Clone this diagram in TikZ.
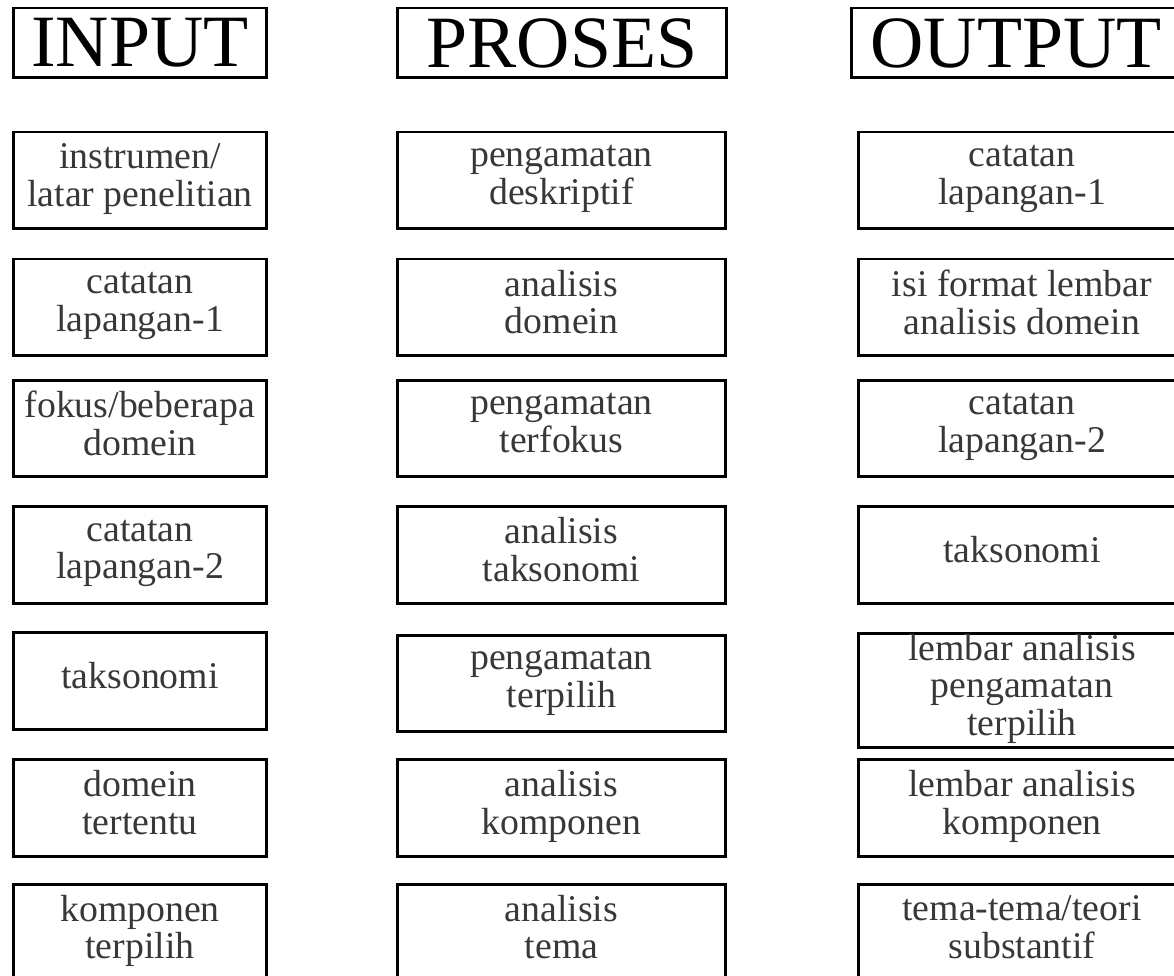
\documentclass[tikz,border=0pt]{standalone}
\usepackage{fontspec}
\setmainfont{Liberation Serif}
\usetikzlibrary{positioning}

\tikzset{
  judul/.style={draw,line width=1.7pt,inner sep=0pt,minimum height=1.4cm,
    font=\fontsize{42}{42}\selectfont},
  kotak/.style={draw,line width=1.7pt,inner sep=0pt,minimum height=1.94cm,
    align=center,text=black!78,font=\fontsize{21.5}{21.5}\selectfont,
    execute at begin node=\strut,execute at end node=\strut},
  kiri/.style={kotak,minimum width=5.08cm},
  tengah/.style={kotak,minimum width=6.58cm},
  kanan/.style={kotak,minimum width=6.56cm}
}

\begin{document}
\begin{tikzpicture}[x=0.02cm,y=-0.02cm]
    \useasboundingbox (0,0) rectangle (1174,976);
    \clip (0,0) rectangle (1174,976);
    % judul kolom
    \node[judul,minimum width=5.08cm] (input) at (140,43) {INPUT};
    \node[judul,minimum width=6.6cm] (proses) at (562,43) {PROSES};
    \node[judul,minimum width=6.6cm] (output) at (1016,43) {OUTPUT};
    % input
    \node[kiri] (in1) at (140,180.5) {instrumen/\\latar penelitian};
    \node[kiri] (in2) at (140,307.5) {catatan\\lapangan-1};
    \node[kiri] (in3) at (140,428.5) {fokus/beberapa\\domein};
    \node[kiri] (in4) at (140,555) {catatan\\lapangan-2};
    \node[kiri] (in5) at (140,681) {taksonomi};
    \node[kiri] (in6) at (140,808) {domein\\tertentu};
    \node[kiri] (in7) at (140,932.5) {komponen\\terpilih};
    % proses
    \node[tengah] (pr1) at (561.5,180.5) {pengamatan\\deskriptif};
    \node[tengah] (pr2) at (561.5,307.5) {analisis\\domein};
    \node[tengah] (pr3) at (561.5,428.5) {pengamatan\\terfokus};
    \node[tengah] (pr4) at (561.5,555) {analisis\\taksonomi};
    \node[tengah] (pr5) at (561.5,683.5) {pengamatan\\terpilih};
    \node[tengah] (pr6) at (561.5,808) {analisis\\komponen};
    \node[tengah] (pr7) at (561.5,932.5) {analisis\\tema};
    % output
    \node[kanan] (out1) at (1022,180.5) {catatan\\lapangan-1};
    \node[kanan] (out2) at (1022,307.5) {isi format lembar\\analisis domein};
    \node[kanan] (out3) at (1022,428.5) {catatan\\lapangan-2};
    \node[kanan] (out4) at (1022,555) {taksonomi};
    \node[kanan,minimum height=1.9cm] (out5) at (1022,690.5) {lembar analisis\\pengamatan\\terpilih};
    \node[kanan] (out6) at (1022,808) {lembar analisis\\komponen};
    \node[kanan] (out7) at (1022,932.5) {tema-tema/teori\\substantif};
\end{tikzpicture}
\end{document}
